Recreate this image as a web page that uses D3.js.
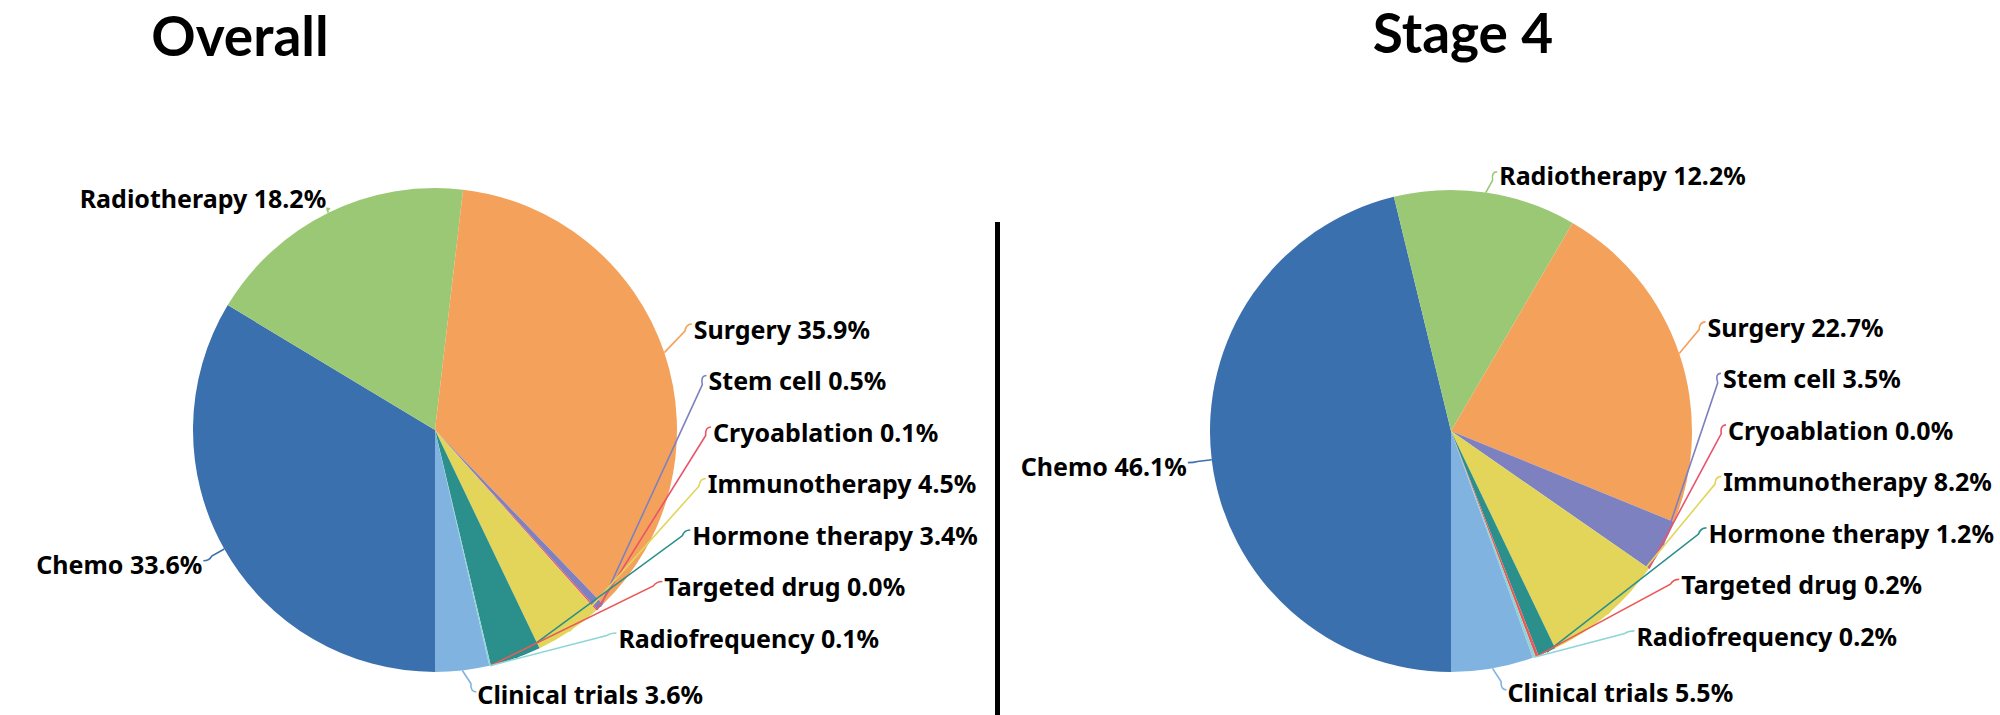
<!DOCTYPE html>
<html><head><meta charset="utf-8">
<script src="https://cdn.jsdelivr.net/npm/d3@7"></script>
<style>html,body{margin:0;padding:0;background:#fff;} svg{display:block}</style>
</head><body><svg id="chart" width="2000" height="715"></svg>
<script>
const categories = ["Chemo","Radiotherapy","Surgery","Stem cell","Cryoablation","Immunotherapy","Hormone therapy","Targeted drug","Radiofrequency","Clinical trials"];
const overallValues = [33.6, 18.2, 35.9, 0.5, 0.1, 4.5, 3.4, 0.0, 0.1, 3.6];
const stage4Values  = [46.1, 12.2, 22.7, 3.5, 0.0, 8.2, 1.2, 0.2, 0.2, 5.5];
const chartTitles = ["Overall", "Stage 4"];
const sliceColors = ["#3a70ad","#9bc874","#f4a25b","#7e81bf","#e9546b","#e2d55a","#2b8f8c","#e95a57","#90d5d5","#80b3e0"];

const svg = d3.select("#chart");
const color = d3.scaleOrdinal().domain(categories).range(sliceColors);
const pie = d3.pie().sort(null).value(d => d.value).startAngle(Math.PI).endAngle(3 * Math.PI);
const labelFont = "'Noto Sans', sans-serif";
const titleFont = "Lato, 'Noto Sans', sans-serif";

const charts = [
  {title: chartTitles[0], values: overallValues, cx: 435, cy: 430, r: 242, tx: 240, ty: 56},
  {title: chartTitles[1], values: stage4Values, cx: 1451, cy: 431, r: 241, tx: 1463, ty: 53}
];

const deg = Math.PI / 180;

charts.forEach(c => {
  svg.append("text").attr("x", c.tx).attr("y", c.ty).attr("text-anchor", "middle")
    .attr("font-family", titleFont).attr("font-weight", 700).attr("font-size", 55)
    .attr("fill", "#000").text(c.title);

  const g = svg.append("g").attr("transform", `translate(${c.cx},${c.cy})`);
  const data = categories.map((k, i) => ({key: k, value: c.values[i]}));
  const arcs = pie(data);
  const arc = d3.arc().innerRadius(0).outerRadius(c.r);
  g.selectAll("path.slice").data(arcs).join("path").attr("class", "slice")
    .attr("d", arc).attr("fill", d => color(d.data.key));

  const LR = c.r + 34, gap = 51.5;
  arcs.forEach(a => {
    const m = ((a.startAngle + a.endAngle) / 2) % (2 * Math.PI);
    a.m = m; a.ux = Math.sin(m); a.uy = -Math.cos(m);
    a.ex = c.r * a.ux; a.ey = c.r * a.uy;
  });
  const bottom = arcs.filter(a => Math.abs(a.m - Math.PI) < 12 * deg);
  const stack = arcs.filter(a => a.m > 25 * deg && a.m < Math.PI - 12 * deg).sort((p, q) => q.m - p.m);
  bottom.forEach(a => {
    a.anchor = "start"; a.bx = a.ex + 15; a.by = a.ey + 33.5;
    a.ax = a.bx - 1; a.ay = a.by - 12;
  });
  let prev = bottom.length ? bottom[0].by - 56 + gap : Infinity;
  stack.forEach(a => {
    const desired = LR * a.uy + 15;
    const y = Math.min(desired, prev - gap);
    prev = y;
    a.anchor = "start"; a.by = y;
    const yx = y - 10;
    a.ax = Math.sqrt(Math.max(0, LR * LR - yx * yx)); a.ay = y - 15;
    a.bx = a.ax + 2;
  });
  arcs.forEach(a => {
    if (a.anchor) return;
    if (a.m <= 25 * deg) {
      a.anchor = "start"; a.ax = a.ex + 24 * a.ux + 8; a.ay = a.ey + 24 * a.uy + 3;
      a.bx = a.ax + 2; a.by = a.ay + 13;
    } else if (a.m >= 300 * deg) {
      a.anchor = "end"; a.ax = a.ex + 5 * a.ux; a.ay = a.ey + 5 * a.uy;
      a.bx = a.ax; a.by = a.ay;
    } else {
      a.anchor = "end"; a.ax = a.ex + 24 * a.ux; a.ay = a.ey + 24 * a.uy;
      a.bx = a.ax - 1; a.by = a.ay + 13;
    }
  });

  const leader = a => {
    const dx = a.ex - a.ax, dy = a.ey - a.ay, L = Math.hypot(dx, dy) || 1;
    const k = Math.min(10, L * 0.4);
    const px = a.ax + dx / L * k, py = a.ay + dy / L * k;
    const cx2 = a.anchor === "end" ? a.ax + 6 : a.ax - 6;
    return `M${a.ex},${a.ey}L${px},${py}Q${cx2},${a.ay} ${a.ax},${a.ay}`;
  };
  g.selectAll("path.leader").data(arcs).join("path").attr("class", "leader")
    .attr("d", leader).attr("fill", "none").attr("stroke", d => color(d.data.key)).attr("stroke-width", 1.6);

  g.selectAll("text.lbl").data(arcs).join("text").attr("class", "lbl")
    .attr("x", d => d.bx).attr("y", d => d.by).attr("text-anchor", d => d.anchor)
    .attr("font-family", labelFont).attr("font-weight", 700).attr("font-size", 25).attr("fill", "#000")
    .text(d => `${d.data.key} ${d.data.value.toFixed(1)}%`);
});

svg.append("line").attr("x1", 997.5).attr("x2", 997.5).attr("y1", 222).attr("y2", 715)
  .attr("stroke", "#000").attr("stroke-width", 5);
</script></body></html>
